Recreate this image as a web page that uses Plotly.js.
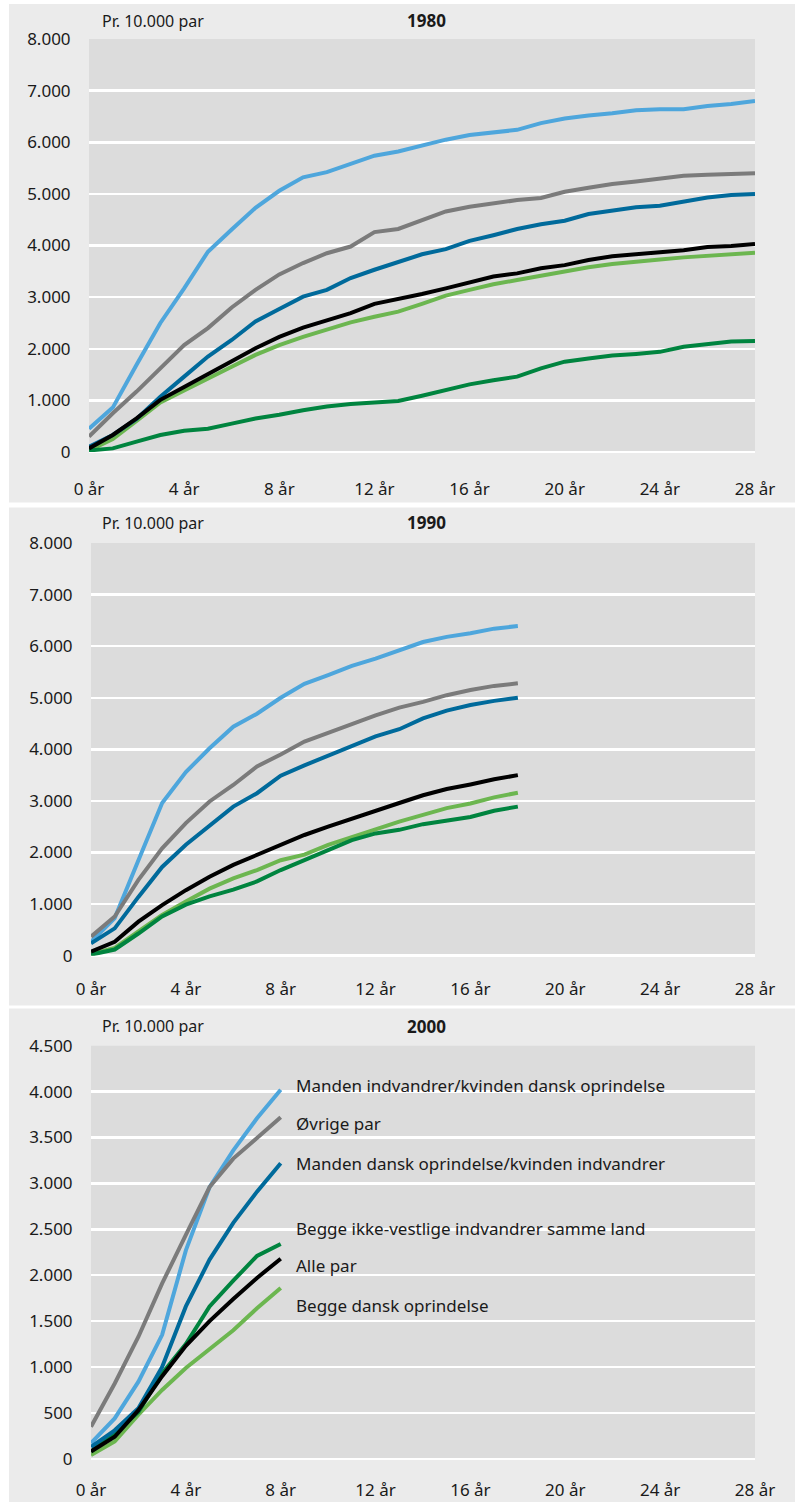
<!DOCTYPE html>
<html>
<head>
<meta charset="utf-8">
<script src="https://cdn.plot.ly/plotly-3.0.1.min.js"></script>
<style>
html,body{margin:0;padding:0;background:#fff;}
#chart{width:797px;height:1502px;}
</style>
</head>
<body>
<div id="chart"></div>
<script>
// ---------- DATA ----------
var seriesNames = [
  "Manden indvandrer/kvinden dansk oprindelse",
  "Øvrige par",
  "Manden dansk oprindelse/kvinden indvandrer",
  "Begge ikke-vestlige indvandrer samme land",
  "Alle par",
  "Begge dansk oprindelse"
];
var panelTitles = ["1980", "1990", "2000"];
var unitLabel = "Pr. 10.000 par";
var xTickSuffix = " år";

var years1980 = [0,1,2,3,4,5,6,7,8,9,10,11,12,13,14,15,16,17,18,19,20,21,22,23,24,25,26,27,28];
var years1990 = [0,1,2,3,4,5,6,7,8,9,10,11,12,13,14,15,16,17,18];
var years2000 = [0,1,2,3,4,5,6,7,8];

// 1980
var manIndv1980  = [450,860,1690,2500,3170,3880,4310,4730,5060,5320,5420,5590,5740,5820,5940,6050,6140,6190,6240,6370,6460,6520,6560,6620,6640,6640,6700,6740,6800];
var ovrige1980   = [300,750,1170,1620,2070,2400,2800,3140,3440,3660,3850,3980,4260,4320,4490,4660,4750,4820,4880,4920,5040,5120,5190,5240,5300,5350,5370,5390,5400];
var manDansk1980 = [100,330,640,1070,1460,1850,2170,2530,2770,3010,3140,3370,3530,3690,3830,3930,4090,4200,4320,4410,4480,4610,4670,4740,4770,4850,4930,4980,5000];
var begIkke1980  = [30,70,200,330,410,450,550,650,720,810,880,930,960,990,1090,1200,1310,1390,1460,1620,1750,1810,1870,1900,1940,2040,2090,2140,2150];
var alle1980     = [70,330,650,1010,1260,1520,1760,2010,2230,2410,2560,2690,2870,2960,3060,3170,3280,3400,3460,3560,3620,3720,3790,3830,3880,3910,3970,3990,4030];
var begDansk1980 = [30,250,600,960,1190,1430,1650,1880,2070,2230,2380,2510,2620,2720,2870,3030,3140,3250,3330,3410,3490,3580,3640,3690,3730,3770,3800,3830,3860];

// 1990
var manIndv1990  = [270,730,1850,2960,3560,4020,4440,4690,5000,5270,5440,5620,5760,5920,6080,6180,6250,6340,6390];
var ovrige1990   = [370,760,1470,2080,2570,2990,3310,3670,3900,4150,4320,4500,4660,4810,4920,5050,5150,5230,5280];
var manDansk1990 = [240,530,1140,1720,2150,2530,2890,3150,3490,3690,3880,4080,4250,4390,4600,4750,4860,4940,5000];
var begIkke1990  = [20,120,430,760,990,1150,1280,1440,1660,1850,2060,2240,2370,2440,2550,2620,2690,2810,2890];
var alle1990     = [80,270,660,980,1270,1530,1760,1950,2150,2340,2500,2660,2820,2960,3110,3230,3320,3420,3500];
var begDansk1990 = [30,150,470,790,1050,1300,1500,1660,1850,1960,2150,2290,2450,2600,2740,2860,2950,3070,3160];

// 2000
var manIndv2000  = [170,440,840,1350,2270,2960,3360,3710,4020];
var ovrige2000   = [350,820,1330,1910,2440,2960,3270,3490,3720];
var manDansk2000 = [130,310,550,1000,1660,2170,2570,2910,3220];
var begIkke2000  = [80,280,510,930,1250,1660,1940,2210,2340];
var alle2000     = [80,240,530,900,1230,1500,1740,1970,2180];
var begDansk2000 = [40,190,480,750,990,1190,1400,1640,1860];

// ---------- STYLE ----------
var colors = ["#4ea6dc", "#7b7b7b", "#006a9b", "#00843f", "#000000", "#6cb650"];
var drawOrder = [5, 3, 0, 1, 2, 4]; // light green, dark green, light blue, gray, dark blue, black
var W = 797, H = 1502;
var FONT = "Noto Sans, sans-serif";
var TXT = "#1a1a1a";

var panels = [
  {years: years1980, data: [manIndv1980, ovrige1980, manDansk1980, begIkke1980, alle1980, begDansk1980], ymax: 8000, dtick: 1000,
   px: [89, 755], py: [39, 452], titleY: 21, tickLen: 22},
  {years: years1990, data: [manIndv1990, ovrige1990, manDansk1990, begIkke1990, alle1990, begDansk1990], ymax: 8000, dtick: 1000,
   px: [91, 755], py: [543, 955.7], titleY: 523, tickLen: 18},
  {years: years2000, data: [manIndv2000, ovrige2000, manDansk2000, begIkke2000, alle2000, begDansk2000], ymax: 4500, dtick: 500,
   px: [91, 755], py: [1045.7, 1458.8], titleY: 1026, tickLen: 16}
];

var traces = [];
var layout = {
  width: W, height: H,
  margin: {l: 0, r: 0, t: 0, b: 0},
  paper_bgcolor: "#ebebeb",
  plot_bgcolor: "#dcdcdc",
  separators: ",.",
  showlegend: false,
  font: {family: FONT, size: 17, color: TXT},
  shapes: [],
  annotations: []
};

// white strips separating the three panels
var whiteStrips = [[0, 0, 9, H], [795, 0, W, H], [0, 0, W, 4], [0, 502.5, W, 507.5], [0, 1005.5, W, 1008.5]];
whiteStrips.forEach(function(s){
  layout.shapes.push({type: "rect", xref: "paper", yref: "paper", layer: "below",
    x0: s[0]/W, x1: s[2]/W, y0: 1 - s[3]/H, y1: 1 - s[1]/H,
    fillcolor: "#ffffff", line: {width: 0}});
});

panels.forEach(function(p, i){
  var n = i + 1;
  var xa = "xaxis" + (n === 1 ? "" : n), ya = "yaxis" + (n === 1 ? "" : n);
  var xr = "x" + (n === 1 ? "" : n), yr = "y" + (n === 1 ? "" : n);
  layout[xa] = {
    domain: [p.px[0]/W, p.px[1]/W], range: [0, 28], anchor: yr,
    tickmode: "linear", tick0: 0, dtick: 4, ticksuffix: xTickSuffix,
    showgrid: false, zeroline: false, showline: false,
    ticks: "outside", ticklen: p.tickLen, tickcolor: "rgba(0,0,0,0)",
    tickfont: {family: FONT, size: 17, color: TXT}, fixedrange: true
  };
  layout[ya] = {
    domain: [1 - p.py[1]/H, 1 - p.py[0]/H], range: [0, p.ymax], anchor: xr,
    tickmode: "linear", tick0: 0, dtick: p.dtick, tickformat: ",d",
    showgrid: true, gridcolor: "#ffffff", gridwidth: 2.5,
    zeroline: true, zerolinecolor: "#ffffff", zerolinewidth: 2.5, showline: false,
    ticks: "outside", ticklen: 14, tickcolor: "rgba(0,0,0,0)",
    tickfont: {family: FONT, size: 17, color: TXT}, fixedrange: true
  };
  drawOrder.forEach(function(k){
    traces.push({
      type: "scatter", mode: "lines", name: seriesNames[k],
      x: p.years, y: p.data[k], xaxis: xr, yaxis: yr,
      line: {color: colors[k], width: 4, shape: "linear"},
      hoverinfo: "skip"
    });
  });
  layout.annotations.push({xref: "paper", yref: "paper", x: 100/W, y: 1 - p.titleY/H,
    xanchor: "left", yanchor: "middle", showarrow: false, text: unitLabel,
    font: {family: FONT, size: 16, color: TXT}});
  layout.annotations.push({xref: "paper", yref: "paper", x: 426/W, y: 1 - p.titleY/H,
    xanchor: "center", yanchor: "middle", showarrow: false, text: "<b>" + panelTitles[i] + "</b>",
    font: {family: FONT, size: 17, color: TXT}});
});

// direct labels in the 2000 panel
var labelY = [1085, 1123, 1163, 1228, 1265, 1305];
seriesNames.forEach(function(name, k){
  layout.annotations.push({xref: "paper", yref: "paper", x: 294/W, y: 1 - labelY[k]/H,
    xanchor: "left", yanchor: "middle", showarrow: false, text: name,
    font: {family: FONT, size: 17, color: TXT}});
});

Plotly.newPlot("chart", traces, layout, {staticPlot: true, displayModeBar: false});
</script>
</body>
</html>
